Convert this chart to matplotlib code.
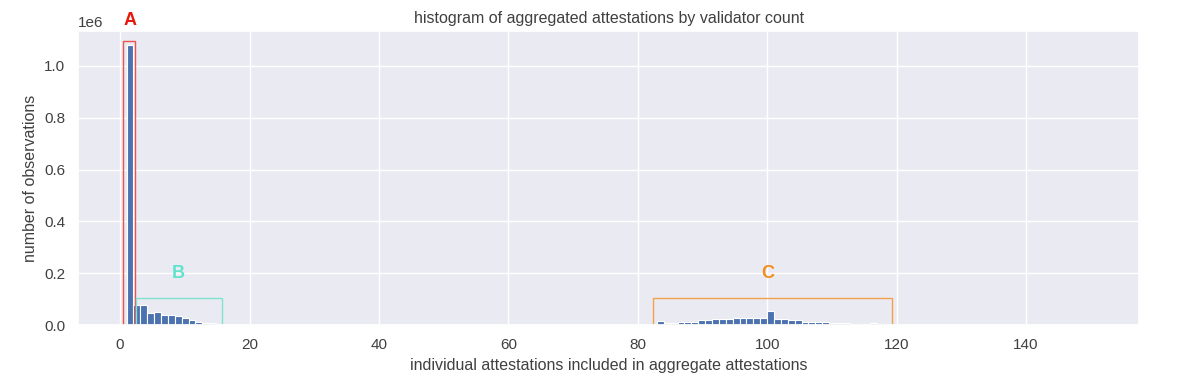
import numpy as np
import matplotlib.pyplot as plt
import seaborn as sns
from matplotlib.patches import Rectangle

# histogram bins: 140 bins spanning 1..150
bin_lo = 1
bin_hi = 150
n_bins = 140

# counts per bin, bins not listed are zero
counts_low = [1080000, 77000, 77000, 45000, 50000, 38000, 38000, 33000, 27000,
              18000, 13000, 8000, 8000, 3000, 1500, 1000, 500]
counts_mid_start = 77
counts_mid = [14000, 8000, 8000, 13000, 13000, 13000, 18000, 18000, 23000, 23000,
              23000, 28000, 28000, 28000, 28000, 28000, 55000,
              23000, 23000, 18000, 18000, 13000, 13000, 13000, 13000,
              8000, 8000, 8000, 0, 0, 0, 9000, 500]

edges = np.linspace(bin_lo, bin_hi, n_bins + 1)
counts = np.zeros(n_bins)
counts[:len(counts_low)] = counts_low
counts[counts_mid_start:counts_mid_start + len(counts_mid)] = counts_mid

sns.set_theme(style="darkgrid")
plt.rcParams['font.family'] = ['Liberation Sans', 'DejaVu Sans']

fig, ax = plt.subplots(figsize=(11.8, 3.89), dpi=100)
fig.subplots_adjust(left=0.0664, right=0.9653, top=0.920, bottom=0.1645)

ax.hist(edges[:-1], bins=edges, weights=counts, color="#4C72B0", edgecolor="white", linewidth=0.8)

# freeze limits so the highlight boxes don't change autoscaling
ax.set_xlim(ax.get_xlim())
ax.set_ylim(ax.get_ylim())

ax.set_title("histogram of aggregated attestations by validator count", fontsize=11.5, color="0.25")
ax.set_xlabel("individual attestations included in aggregate attestations", fontsize=11.5, color="0.25")
ax.set_ylabel("number of observations", fontsize=11.5, color="0.25")
ax.tick_params(labelsize=11, labelcolor="0.25")
ax.yaxis.get_offset_text().set_fontsize(11)
ax.yaxis.get_offset_text().set_color("0.25")

# highlight regions
ax.add_patch(Rectangle((0.4, 0), 1.85, 1.095e6, fill=False, edgecolor="#e8534a", linewidth=1))
ax.add_patch(Rectangle((2.4, 0), 13.4, 0.104e6, fill=False, edgecolor="#7fe3cf", linewidth=1))
ax.add_patch(Rectangle((82.4, 0), 36.9, 0.104e6, fill=False, edgecolor="#f4a04c", linewidth=1))

ax.text(1.5, 1.175e6, "A", color="#e8180c", fontsize=13, fontweight="bold", ha="center", va="center")
ax.text(9, 0.2e6, "B", color="#5fe3cc", fontsize=13, fontweight="bold", ha="center", va="center")
ax.text(100, 0.2e6, "C", color="#f28c1c", fontsize=13, fontweight="bold", ha="center", va="center")

plt.savefig("out.png")
